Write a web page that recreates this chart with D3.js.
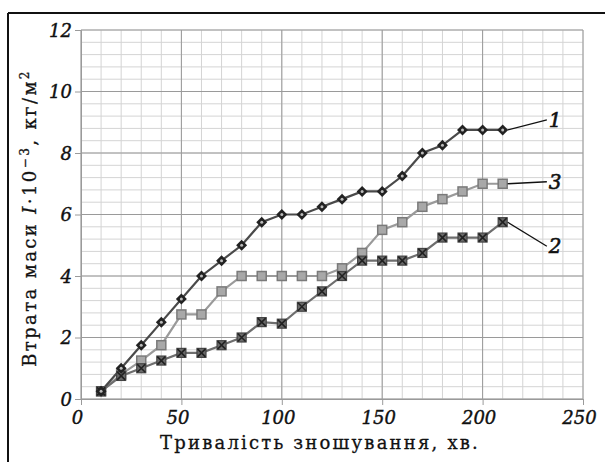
<!DOCTYPE html>
<html>
<head>
<meta charset="utf-8">
<script src="https://cdn.jsdelivr.net/npm/d3@7"></script>
<style>
  body { margin: 0; background: #fff; }
  svg text { font-family: "DejaVu Serif", "Liberation Serif", serif; }
</style>
</head>
<body>
<div id="chart"></div>
<script>
// data
var times   = [10, 20, 30, 40, 50, 60, 70, 80, 90, 100, 110, 120, 130, 140, 150, 160, 170, 180, 190, 200, 210];
var series1 = [0.25, 1.0, 1.75, 2.5, 3.25, 4.0, 4.5, 5.0, 5.75, 6.0, 6.0, 6.25, 6.5, 6.75, 6.75, 7.25, 8.0, 8.25, 8.75, 8.75, 8.75];
var series2 = [0.25, 0.75, 1.0, 1.25, 1.5, 1.5, 1.75, 2.0, 2.5, 2.45, 3.0, 3.5, 4.0, 4.5, 4.5, 4.5, 4.75, 5.25, 5.25, 5.25, 5.75];
var series3 = [0.25, 0.8, 1.25, 1.75, 2.75, 2.75, 3.5, 4.0, 4.0, 4.0, 4.0, 4.0, 4.25, 4.75, 5.5, 5.75, 6.25, 6.5, 6.75, 7.0, 7.0];
var xTicks = [0, 50, 100, 150, 200, 250];
var yTicks = [0, 2, 4, 6, 8, 10, 12];
var seriesLabels = ["1", "2", "3"];

var svgWidth = 605, svgHeight = 462;
var margin = { top: 30, right: 22, bottom: 63, left: 81 };
var width = svgWidth - margin.left - margin.right;
var height = svgHeight - margin.top - margin.bottom;

var svg = d3.select("#chart").append("svg")
    .attr("width", svgWidth)
    .attr("height", svgHeight);

// outer frame (top and left lines only are visible)
svg.append("line").attr("x1", 8).attr("x2", svgWidth).attr("y1", 13).attr("y2", 13)
    .attr("stroke", "#111").attr("stroke-width", 2);
svg.append("line").attr("x1", 8).attr("x2", 8).attr("y1", 13).attr("y2", svgHeight)
    .attr("stroke", "#111").attr("stroke-width", 2);

var g = svg.append("g").attr("transform", `translate(${margin.left},${margin.top})`);

var x = d3.scaleLinear().domain([0, 250]).range([0, width]);
var y = d3.scaleLinear().domain([0, 12]).range([height, 0]);

// minor grid
g.append("g").selectAll("line").data(d3.range(0, 251, 10)).enter().append("line")
    .attr("x1", d => x(d)).attr("x2", d => x(d)).attr("y1", 0).attr("y2", height)
    .attr("stroke", "#d4d4d4").attr("stroke-width", 1);
g.append("g").selectAll("line").data(d3.range(0, 31).map(i => i * 0.4)).enter().append("line")
    .attr("x1", 0).attr("x2", width).attr("y1", d => y(d)).attr("y2", d => y(d))
    .attr("stroke", "#d4d4d4").attr("stroke-width", 1);

// major grid
g.append("g").selectAll("line").data(xTicks).enter().append("line")
    .attr("x1", d => x(d)).attr("x2", d => x(d)).attr("y1", 0).attr("y2", height)
    .attr("stroke", "#9a9a9a").attr("stroke-width", 1);
g.append("g").selectAll("line").data(yTicks).enter().append("line")
    .attr("x1", 0).attr("x2", width).attr("y1", d => y(d)).attr("y2", d => y(d))
    .attr("stroke", "#9a9a9a").attr("stroke-width", 1);

// axes
var xAxis = g.append("g").attr("transform", `translate(0,${height})`)
    .call(d3.axisBottom(x).tickValues(xTicks).tickSize(6).tickPadding(6));
var yAxis = g.append("g")
    .call(d3.axisLeft(y).tickValues(yTicks).tickSize(6).tickPadding(3));
[xAxis, yAxis].forEach(function(a) {
    a.selectAll("path, line").attr("stroke", "#9a9a9a");
    a.selectAll("text").attr("fill", "#111").attr("font-size", 18)
        .attr("font-style", "italic").style("font-family", '"DejaVu Serif", serif')
        .attr("stroke", "#111").attr("stroke-width", 0.4);
});
xAxis.selectAll("text").attr("dx", -4);
yAxis.selectAll("text").attr("dy", "0.35em");

// lines
var line = d3.line().x(d => x(d[0])).y(d => y(d[1]));
function pairs(vals) { return times.map((t, i) => [t, vals[i]]); }

var styles = [
    { data: series3, line: "#9a9a9a", w: 2.2 },
    { data: series2, line: "#6e6e6e", w: 2.2 },
    { data: series1, line: "#4a4a4a", w: 2.2 }
];
styles.forEach(function(s) {
    g.append("path").datum(pairs(s.data)).attr("d", line)
        .attr("fill", "none").attr("stroke", s.line).attr("stroke-width", s.w);
});

// markers series 3: light gray squares
g.append("g").selectAll("rect").data(pairs(series3)).enter().append("rect")
    .attr("x", d => x(d[0]) - 4.5).attr("y", d => y(d[1]) - 4.5)
    .attr("width", 9).attr("height", 9)
    .attr("fill", "#a8a8a8").attr("stroke", "#7a7a7a").attr("stroke-width", 1.5);

// markers series 2: dark squares with a cross
var m2 = g.append("g").selectAll("g").data(pairs(series2)).enter().append("g")
    .attr("transform", d => `translate(${x(d[0])},${y(d[1])})`);
m2.append("rect").attr("x", -4.5).attr("y", -4.5).attr("width", 9).attr("height", 9)
    .attr("fill", "#6a6a6a").attr("stroke", "#444").attr("stroke-width", 1.2);
m2.append("path").attr("d", "M-4,-4L4,4M4,-4L-4,4")
    .attr("stroke", "#222").attr("stroke-width", 1.6);

// markers series 1: dark diamonds with light centre
var m1 = g.append("g").selectAll("g").data(pairs(series1)).enter().append("g")
    .attr("transform", d => `translate(${x(d[0])},${y(d[1])})`);
m1.append("path").attr("d", "M0,-5.5L5.5,0L0,5.5L-5.5,0Z").attr("fill", "#222");
m1.append("circle").attr("r", 1.5).attr("fill", "#bbb");

// series labels with leader lines
var lastIdx = times.length - 1;
var labelPos = [
    { name: seriesLabels[0], vals: series1, ly: y(series1[lastIdx]) - 10 },
    { name: seriesLabels[1], vals: series2, ly: y(series2[lastIdx]) + 24 },
    { name: seriesLabels[2], vals: series3, ly: y(series3[lastIdx]) - 2 }
];
labelPos.forEach(function(l) {
    var px = x(times[lastIdx]) + 5, py = y(l.vals[lastIdx]);
    g.append("line").attr("x1", px).attr("y1", py).attr("x2", x(232)).attr("y2", l.ly)
        .attr("stroke", "#111").attr("stroke-width", 1.3);
    g.append("text").attr("x", x(233)).attr("y", l.ly).attr("dy", "0.35em")
        .attr("font-size", 20).attr("font-style", "italic").attr("fill", "#111")
        .attr("stroke", "#111").attr("stroke-width", 0.6)
        .text(l.name);
});

// axis titles
svg.append("text").attr("x", 320).attr("y", 449).attr("text-anchor", "middle")
    .attr("font-size", 18).attr("fill", "#111").attr("letter-spacing", 2.2)
    .attr("stroke", "#111").attr("stroke-width", 0.3)
    .text("Тривалість зношування, хв.");

var yt = svg.append("text").attr("transform", "translate(36,218) rotate(-90)")
    .attr("text-anchor", "middle").attr("font-size", 18).attr("fill", "#111")
    .attr("letter-spacing", 2.4).attr("stroke", "#111").attr("stroke-width", 0.3);
yt.append("tspan").text("Втрата маси ");
yt.append("tspan").attr("font-style", "italic").text("I");
yt.append("tspan").text("·10");
yt.append("tspan").attr("dy", -7).attr("font-size", 12).text("−3");
yt.append("tspan").attr("dy", 7).text(", кг/м");
yt.append("tspan").attr("dy", -7).attr("font-size", 12).text("2");
</script>
</body>
</html>
